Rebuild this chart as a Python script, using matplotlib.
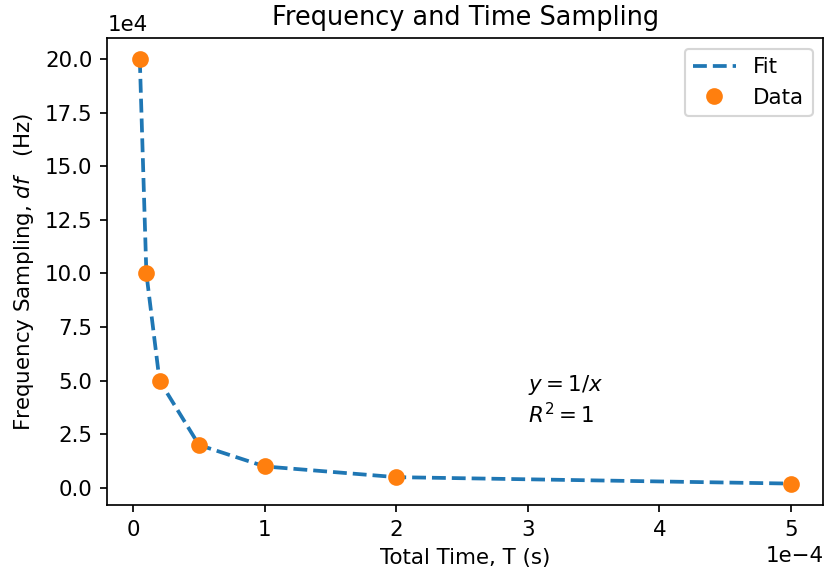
import matplotlib
matplotlib.use("Agg")
import matplotlib.pyplot as plt
from matplotlib.ticker import ScalarFormatter

T = [5e-6, 1e-5, 2e-5, 5e-5, 1e-4, 2e-4, 5e-4]
df = [2e5, 1e5, 5e4, 2e4, 1e4, 5e3, 2e3]

fig = plt.figure(figsize=(825 / 154, 573 / 154), dpi=154)
ax = fig.add_axes([0.130, 0.119, 0.868, 0.815])
ax.plot(T, df, '--', color='#1f77b4', lw=1.75, label='Fit')
ax.plot(T, df, 'o', color='#ff7f0e', ms=6.8, label='Data')
ax.set_title('Frequency and Time Sampling', fontsize=12)
ax.set_xlabel('Total Time, T (s)')
ax.set_ylabel('Frequency Sampling, $df$   (Hz)')
fx = ScalarFormatter(useMathText=False)
fx.set_powerlimits((-4, -4))
ax.xaxis.set_major_formatter(fx)
fy = ScalarFormatter(useMathText=False)
fy.set_powerlimits((4, 4))
ax.yaxis.set_major_formatter(fy)
ax.text(3e-4, 4.8e4, '$y = 1/x$', va='center')
ax.text(3e-4, 3.4e4, '$R^2 = 1$', va='center')
ax.legend(loc='upper right')
fig.savefig('out.png')
